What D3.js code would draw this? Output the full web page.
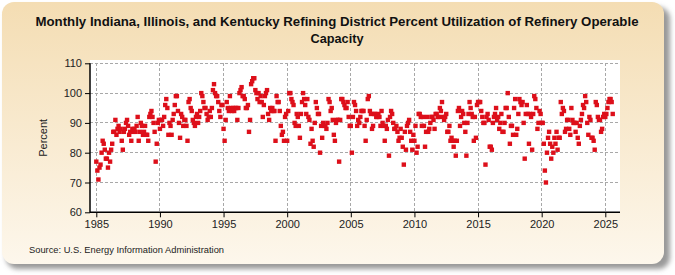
<!DOCTYPE html>
<html><head><meta charset="utf-8">
<script src="https://cdn.jsdelivr.net/npm/d3@7"></script>
<style>html,body{margin:0;padding:0;background:#fff}svg{display:block}</style>
</head><body>
<script>
const title1 = "Monthly Indiana, Illinois, and Kentucky Refining District Percent Utilization of Refinery Operable";
const title2 = "Capacity";
const yLabel = "Percent";
const source = "Source: U.S. Energy Information Administration";
const xTicks = [1985,1990,1995,2000,2005,2010,2015,2020,2025];
const yTicks = [60,70,80,90,100,110];
const startYear = 1985;
// Monthly values, Jan..Dec per year
const values1985_1994 = [
 77,74,71,75,76,80,84,83,81,78,78,75,
 80,77,81,83,87,87,91,86,88,89,87,88,
 84,81,87,88,90,91,89,86,87,84,88,87,
 88,87,89,92,84,87,90,89,86,87,89,86,
 86,84,92,93,94,92,90,87,77,83,90,91,
 88,91,91,89,92,96,98,95,86,90,89,86,
 91,93,96,99,99,94,90,85,93,92,89,91,
 91,89,84,97,98,95,94,91,90,89,92,93,
 90,92,94,100,99,97,95,95,93,91,92,94,
 92,95,101,103,100,99,99,97,94,92,96,96
];
const values1995_2004 = [
 88,84,91,97,95,94,99,95,94,95,94,95,
 95,91,95,100,101,102,99,99,98,95,95,96,
 87,91,103,104,105,105,101,100,98,100,97,99,
 97,92,96,99,100,101,93,91,95,94,95,94,
 94,84,99,97,97,94,89,86,87,84,92,93,
 84,94,100,100,98,97,96,90,89,93,92,89,
 85,93,97,100,98,96,93,98,92,91,83,88,
 84,82,90,97,95,93,93,80,89,85,90,89,
 89,88,90,98,97,94,95,91,86,84,90,91,
 91,77,91,98,98,97,96,95,95,97,92,89
];
const values2005_2014 = [
 89,80,92,97,96,94,89,91,90,92,94,94,
 94,89,84,91,98,99,94,93,88,89,93,93,
 92,92,93,92,89,94,90,89,84,89,88,91,
 79,92,94,93,90,88,88,89,87,84,85,88,
 85,82,76,87,81,89,90,91,87,84,81,86,
 84,89,80,82,93,93,92,89,92,89,82,87,
 92,87,88,90,92,92,91,88,93,93,92,92,
 95,94,97,92,91,92,93,87,87,89,84,85,
 84,82,84,79,84,94,95,89,92,94,93,90,
 87,79,90,93,97,95,93,92,84,92,85,96
];
const values2015_2025 = [
 97,97,97,94,92,90,90,76,92,93,91,82,
 82,81,90,92,93,95,91,92,88,90,93,87,
 87,90,95,95,100,92,83,89,89,86,95,98,
 86,88,93,98,97,96,97,90,78,93,96,93,
 83,93,92,81,93,99,98,95,88,90,94,93,
 90,90,83,74,70,80,85,87,83,78,82,80,
 85,83,87,81,85,85,97,93,95,94,87,88,
 91,91,88,86,95,91,90,90,87,90,85,83,
 89,91,93,96,95,99,97,90,86,92,91,85,
 85,84,81,97,96,92,91,91,87,88,92,93,
 92,93,95,97,98,98,97,93
];
const values = [].concat(values1985_1994, values1995_2004, values2005_2014, values2015_2025);

const W = 675, H = 275;
const svg = d3.select("body").append("svg").attr("width", W).attr("height", H);
const defs = svg.append("defs");
const grad = defs.append("linearGradient").attr("id","bg").attr("x1",0).attr("y1",0).attr("x2",0).attr("y2",1);
grad.append("stop").attr("offset","0%").attr("stop-color","#f4ddb3");
grad.append("stop").attr("offset","100%").attr("stop-color","#fdf7ec");
const blur = defs.append("filter").attr("id","sh").attr("x","-5%").attr("y","-5%").attr("width","110%").attr("height","110%");
blur.append("feGaussianBlur").attr("stdDeviation",2.5);

svg.append("rect").attr("x",6).attr("y",7).attr("width",664).attr("height",262).attr("rx",12)
  .attr("fill","#9a9a9a").attr("filter","url(#sh)");
svg.append("rect").attr("x",2).attr("y",2).attr("width",662).attr("height",262).attr("rx",12)
  .attr("fill","url(#bg)");

const x = d3.scaleLinear().domain([1985, 2025]).range([96.3, 605.3]);
const y = d3.scaleLinear().domain([60, 110]).range([212.3, 63.3]);
const left = 90, right = 620;

svg.append("rect").attr("x", left).attr("y", 60).attr("width", right-left).attr("height", y(60)-60).attr("fill","#fff");

const grid = svg.append("g");
grid.selectAll("line.h").data(yTicks.slice(1)).join("line")
  .attr("x1", left).attr("x2", right).attr("y1", d=>y(d)).attr("y2", d=>y(d))
  .attr("stroke","#a8a8a8").attr("stroke-dasharray","3,2").attr("stroke-width",1).attr("shape-rendering","crispEdges");
grid.selectAll("line.v").data(xTicks).join("line")
  .attr("y1", y(110)).attr("y2", y(60)).attr("x1", d=>x(d)).attr("x2", d=>x(d))
  .attr("stroke","#a8a8a8").attr("stroke-dasharray","3,2").attr("stroke-width",1).attr("shape-rendering","crispEdges");

const pts = values.map((v,i)=>({t: startYear + i/12, v}));
svg.append("g").selectAll("rect").data(pts).join("rect")
  .attr("x", d=>x(d.t)-2.2).attr("y", d=>y(d.v)-2.2).attr("width",4.4).attr("height",4.4)
  .attr("fill","#dd0f1a");

const font = "Liberation Sans, Arial, sans-serif";
const yAxis = svg.append("g").attr("transform",`translate(${left},0)`)
  .call(d3.axisLeft(y).tickValues(yTicks).tickSize(5).tickPadding(3).tickSizeOuter(0));
const xAxis = svg.append("g").attr("transform",`translate(0,${y(60)})`)
  .call(d3.axisBottom(x).tickValues(xTicks).tickFormat(d3.format("d")).tickSize(5).tickPadding(3).tickSizeOuter(0));
[yAxis, xAxis].forEach(a=>{
  a.select(".domain").remove();
  a.selectAll("line").attr("stroke","#000");
  a.selectAll("text").attr("font-family",font).attr("font-size",11).attr("fill","#222");
});
svg.append("line").attr("x1",left).attr("x2",left).attr("y1",y(110)).attr("y2",y(60)+0.5).attr("stroke","#000").attr("stroke-width",1.5);
svg.append("line").attr("x1",left).attr("x2",right).attr("y1",y(60)).attr("y2",y(60)).attr("stroke","#000").attr("stroke-width",1.5);

svg.append("text").attr("transform",`translate(47,${(y(60)+y(110))/2}) rotate(-90)`)
  .attr("text-anchor","middle").attr("font-family",font).attr("font-size",11).attr("fill","#222").text(yLabel);

svg.append("text").attr("x",337).attr("y",26).attr("text-anchor","middle").attr("font-family",font)
  .attr("font-size",13).attr("font-weight","bold").attr("fill","#111")
  .attr("textLength",603).attr("lengthAdjust","spacingAndGlyphs").text(title1);
svg.append("text").attr("x",337).attr("y",43).attr("text-anchor","middle").attr("font-family",font)
  .attr("font-size",13).attr("font-weight","bold").attr("fill","#111")
  .attr("textLength",53).attr("lengthAdjust","spacingAndGlyphs").text(title2);
svg.append("text").attr("x",29).attr("y",253).attr("font-family",font).attr("font-size",9.5).attr("fill","#222")
  .attr("textLength",195).attr("lengthAdjust","spacingAndGlyphs").text(source);
</script>
</body></html>
